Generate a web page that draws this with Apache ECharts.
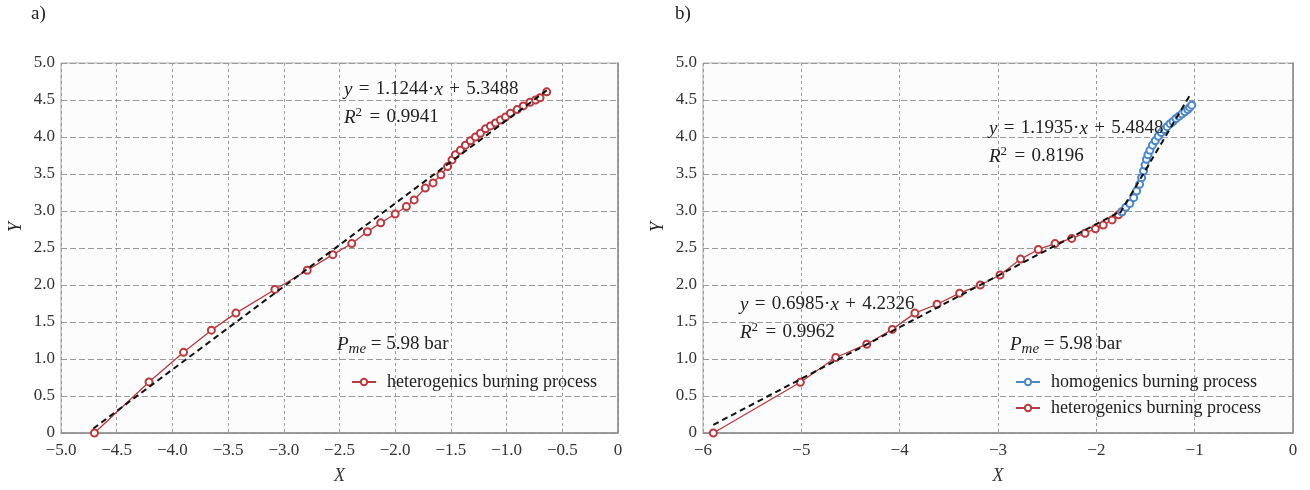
<!DOCTYPE html>
<html>
<head>
<meta charset="utf-8">
<script src="https://cdn.jsdelivr.net/npm/echarts@6/dist/echarts.min.js"></script>
<style>
html,body{margin:0;padding:0;background:#fff;}
#c{width:1310px;height:490px;}
</style>
</head>
<body>
<div id="c"></div>
<script>
// ---- Data ----
// Panel a) heterogenics burning process
const heteroA_X = [-4.70,-4.21,-3.90,-3.65,-3.43,-3.08,-2.79,-2.56,-2.39,-2.25,-2.13,-2.00,-1.90,-1.83,-1.73,-1.66,-1.59,-1.53,-1.49,-1.46,-1.415,-1.37,-1.325,-1.28,-1.235,-1.19,-1.145,-1.10,-1.055,-1.01,-0.965,-0.905,-0.85,-0.79,-0.74,-0.70,-0.64];
const heteroA_Y = [0.00,0.69,1.09,1.39,1.62,1.94,2.20,2.41,2.56,2.72,2.84,2.96,3.06,3.15,3.31,3.38,3.49,3.60,3.69,3.76,3.82,3.89,3.95,4.00,4.05,4.11,4.15,4.19,4.23,4.27,4.32,4.37,4.42,4.47,4.50,4.53,4.61];
const fitA_X = [-4.71,-0.64];
const fitA_Y = [0.06,4.63];

// Panel b) heterogenics burning process
const heteroB_X = [-5.895,-5.01,-4.65,-4.335,-4.075,-3.845,-3.62,-3.39,-3.18,-2.98,-2.77,-2.59,-2.42,-2.25,-2.115,-2.01,-1.93,-1.84,-1.775,-1.74];
const heteroB_Y = [0.00,0.685,1.02,1.20,1.40,1.62,1.74,1.89,2.00,2.135,2.35,2.48,2.56,2.63,2.70,2.76,2.81,2.88,2.95,2.99];
// Panel b) homogenics burning process
const homoB_X = [-1.74,-1.70,-1.66,-1.62,-1.59,-1.56,-1.54,-1.52,-1.505,-1.49,-1.475,-1.455,-1.43,-1.40,-1.37,-1.34,-1.31,-1.28,-1.25,-1.22,-1.19,-1.16,-1.13,-1.10,-1.07,-1.05,-1.03];
const homoB_Y = [2.99,3.05,3.10,3.18,3.27,3.36,3.45,3.54,3.62,3.70,3.76,3.82,3.89,3.95,4.01,4.06,4.10,4.14,4.18,4.21,4.25,4.28,4.31,4.34,4.37,4.40,4.43];
const fitB1_X = [-5.895,-1.76];
const fitB1_Y = [0.11,2.99];
const fitB2_X = [-1.76,-1.055];
const fitB2_Y = [2.97,4.55];

const xTicksA = [-5.0,-4.5,-4.0,-3.5,-3.0,-2.5,-2.0,-1.5,-1.0,-0.5,0];
const xTicksB = [-6,-5,-4,-3,-2,-1,0];
const yTicks = [0,0.5,1.0,1.5,2.0,2.5,3.0,3.5,4.0,4.5,5.0];

const zip = (xs, ys) => xs.map((x, i) => [x, ys[i]]);

// ---- Styling ----
const FONT = '"Liberation Serif", "DejaVu Serif", serif';
const RED = '#b83a3f';
const BLUE = '#4d86c6';
const GRIDC = '#9a9a9a';
const TICKFS = 17;
const ANNFS = 19;
const LEGFS = 18;
const SP = '\u2004';

function fmtX(v, dec) {
  if (Math.abs(v) < 1e-9) return '0';
  return (v < 0 ? '\u2212' : '') + Math.abs(v).toFixed(dec);
}
function fmtY(v) {
  if (Math.abs(v) < 1e-9) return '0';
  return v.toFixed(1);
}

function xAxis(gridIndex, min, interval, dec) {
  return {
    type: 'value', gridIndex, min, max: 0, interval,
    name: 'X', nameLocation: 'middle', nameGap: 34,
    nameTextStyle: {fontFamily: FONT, fontStyle: 'italic', fontSize: 18, color: '#333'},
    axisLine: {show: true, onZero: false, lineStyle: {color: '#8c8c8c', width: 1.5}},
    axisTick: {show: false},
    axisLabel: {fontFamily: FONT, fontSize: TICKFS, color: '#333', margin: 9, formatter: v => fmtX(v, dec)},
    splitLine: {show: true, lineStyle: {color: GRIDC, type: [3, 3], width: 1}}
  };
}
function yAxis(gridIndex) {
  return {
    type: 'value', gridIndex, min: 0, max: 5, interval: 0.5,
    axisLine: {show: true, lineStyle: {color: '#8c8c8c', width: 1.5}},
    axisTick: {show: false},
    axisLabel: {fontFamily: FONT, fontSize: TICKFS, color: '#333', margin: 6, formatter: fmtY},
    splitLine: {show: true, lineStyle: {color: GRIDC, type: [6, 3], width: 1}}
  };
}

function dataSeries(name, xi, xs, ys, color) {
  return {
    name, type: 'line', xAxisIndex: xi, yAxisIndex: xi,
    data: zip(xs, ys), symbol: 'emptyCircle', symbolSize: 7, showSymbol: true,
    itemStyle: {color: color, borderWidth: 1},
    lineStyle: {color: color, width: 1.3},
    emphasis: {disabled: true}, animation: false, z: 3
  };
}
function fitSeries(xi, xs, ys) {
  return {
    type: 'line', xAxisIndex: xi, yAxisIndex: xi,
    data: zip(xs, ys), symbol: 'none',
    lineStyle: {color: '#111', width: 2, type: [6, 4]},
    emphasis: {disabled: true}, animation: false, z: 4, silent: true
  };
}

const txtBase = {fontFamily: FONT, fontSize: ANNFS, fill: '#222'};
const rich = {
  i: {fontFamily: FONT, fontSize: ANNFS, fontStyle: 'italic', color: '#222'},
  sup: {fontFamily: FONT, fontSize: 13, color: '#222', verticalAlign: 'top', padding: [0, 1, 10, 0]},
  sub: {fontFamily: FONT, fontSize: 15, fontStyle: 'italic', color: '#222', padding: [9, 0, 0, 0]}
};
function label(x, y, text) {
  return {type: 'text', left: x, top: y, z: 10,
    style: Object.assign({}, txtBase, {text, rich})};
}
function eq(a, b) { return '{i|y}' + SP + '=' + SP + a + '\u00b7{i|x}' + SP + '+' + SP + b; }
function r2(v) { return '{i|R}{sup|2}' + SP + '=' + SP + v; }

const option = {
  animation: false,
  backgroundColor: '#ffffff',
  grid: [
    {left: 61, right: 692, top: 63, bottom: 57, show: true, backgroundColor: '#fcfcfc', borderColor: '#a8a8a8', borderWidth: 1},
    {left: 703, right: 17, top: 63, bottom: 57, show: true, backgroundColor: '#fcfcfc', borderColor: '#a8a8a8', borderWidth: 1}
  ],
  xAxis: [xAxis(0, -5, 0.5, 1), xAxis(1, -6, 1, 0)],
  yAxis: [yAxis(0), yAxis(1)],
  legend: [
    {left: 346, top: 368, orient: 'vertical', itemWidth: 24, itemHeight: 8, itemGap: 9,
     data: ['heterogenics burning process'],
     textStyle: {fontFamily: FONT, fontSize: LEGFS, color: '#222', padding: [0, 0, 0, 6]}},
    {left: 1010, top: 368, orient: 'vertical', itemWidth: 24, itemHeight: 8, itemGap: 8,
     data: ['homogenics burning process', 'heterogenics burning process'],
     textStyle: {fontFamily: FONT, fontSize: LEGFS, color: '#222', padding: [0, 0, 0, 6]}}
  ],
  series: [
    dataSeries('heterogenics burning process', 0, heteroA_X, heteroA_Y, RED),
    fitSeries(0, fitA_X, fitA_Y),
    dataSeries('heterogenics burning process', 1, heteroB_X, heteroB_Y, RED),
    dataSeries('homogenics burning process', 1, homoB_X, homoB_Y, BLUE),
    fitSeries(1, fitB1_X, fitB1_Y),
    fitSeries(1, fitB2_X, fitB2_Y)
  ],
  graphic: [
    {type: 'text', left: 31, top: 5, style: Object.assign({}, txtBase, {text: 'a)', fontSize: 19})},
    {type: 'text', left: 675, top: 5, style: Object.assign({}, txtBase, {text: 'b)', fontSize: 19})},
    {type: 'text', left: 7, top: 222, rotation: Math.PI / 2, style: Object.assign({}, txtBase, {text: 'Y', fontStyle: 'italic', fontSize: 18})},
    {type: 'text', left: 649, top: 222, rotation: Math.PI / 2, style: Object.assign({}, txtBase, {text: 'Y', fontStyle: 'italic', fontSize: 18})},
    label(344, 80, eq('1.1244', '5.3488')),
    label(344, 106, r2('0.9941')),
    label(337, 335, '{i|P}{sub|me}' + ' = 5.98 bar'),
    label(989, 119, eq('1.1935', '5.4848')),
    label(989, 145, r2('0.8196')),
    label(740, 295, eq('0.6985', '4.2326')),
    label(740, 321, r2('0.9962')),
    label(1010, 335, '{i|P}{sub|me}' + ' = 5.98 bar')
  ]
};

const chart = echarts.init(document.getElementById('c'), null, {renderer: 'canvas'});
chart.setOption(option);
</script>
</body>
</html>
